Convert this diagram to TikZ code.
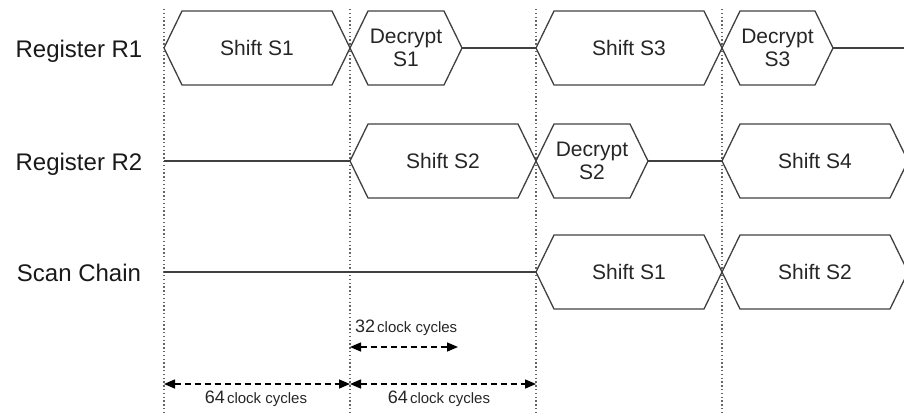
\documentclass[tikz,border=0pt]{standalone}
\usepackage{fontspec}
\setmainfont{Liberation Sans}
\usetikzlibrary{arrows.meta}
\tikzset{
  sig/.style={draw=black!75, line width=1.3pt, line join=miter},
  hextext/.style={font=\fontsize{21}{23}\selectfont, align=center, text=black!85, inner sep=0pt},
  rowlabel/.style={font=\fontsize{24}{28}\selectfont, text=black!90, inner sep=0pt, anchor=base},
  gridline/.style={draw=black!60, line width=1.3pt, dash pattern=on 1.3pt off 2.5pt},
  span/.style={draw=black, line width=1.5pt, dash pattern=on 6pt off 4pt,
    {Triangle[length=11pt,width=9pt]}-{Triangle[length=11pt,width=9pt]}},
  cyc/.style={font=\fontsize{15}{18}\selectfont, text=black!85, inner sep=0pt},
}
\newcommand\busseg[5]{%
  \draw[sig] (#2,#4) -- ++(18,-37) -- (#3-18,#4-37) -- (#3,#4) -- (#3-18,#4+37) -- (#2+18,#4+37) -- cycle;
  \node[hextext] (#1) at ({(#2+#3)/2},#4) {#5};
}
\newcommand\bignum[1]{{\fontsize{18}{19}\selectfont #1}\hspace{2pt}}
\begin{document}
\begin{tikzpicture}[x=1pt,y=-1pt]
\useasboundingbox (0,0) rectangle (904,413);
\begin{scope}
\clip (0,0) rectangle (904,413);
% vertical dotted guides
\foreach \gx/\gn in {164/ga,350/gb,536/gc,722/gd}{
  \coordinate (\gn top) at (\gx,9);
  \coordinate (\gn bot) at (\gx,413);
  \draw[gridline] (\gn top) -- (\gn bot);
}
% row labels
\node[rowlabel] (lr1) at (79,57) {Register R1};
\node[rowlabel] (lr2) at (79,170) {Register R2};
\node[rowlabel] (lsc) at (79,281) {Scan Chain};
% Row 1
\busseg{s1a}{164}{350}{48}{Shift S1}
\busseg{d1}{350}{462}{48}{Decrypt\\S1}
\coordinate (r1p1) at (462,48);
\coordinate (r1p2) at (536,48);
\draw[sig] (r1p1) -- (r1p2);
\busseg{s3}{536}{722}{48}{Shift S3}
\busseg{d3}{722}{833}{48}{Decrypt\\S3}
\coordinate (r1p3) at (833,48);
\coordinate (r1end) at (904,48);
\draw[sig] (r1p3) -- (r1end);
% Row 2
\coordinate (r2p0) at (164,161);
\coordinate (r2p1) at (350,161);
\draw[sig] (r2p0) -- (r2p1);
\busseg{s2}{350}{536}{161}{Shift S2}
\busseg{d2}{536}{648}{161}{Decrypt\\S2}
\coordinate (r2p2) at (648,161);
\coordinate (r2p3) at (722,161);
\draw[sig] (r2p2) -- (r2p3);
\busseg{s4}{722}{908}{161}{Shift S4}
% Row 3
\coordinate (r3p0) at (164,272);
\coordinate (r3p1) at (536,272);
\draw[sig] (r3p0) -- (r3p1);
\busseg{c1}{536}{722}{272}{Shift S1}
\busseg{c2}{722}{908}{272}{Shift S2}
% spans
\coordinate (a32l) at (350,347);
\coordinate (a32r) at (458,347);
\draw[span] (a32l) -- (a32r);
\node[cyc, anchor=base west] (t32) at (355,332) {\bignum{32}clock cycles};
\coordinate (a64a) at (164,384);
\coordinate (a64b) at (350,384);
\coordinate (a64c) at (536,384);
\draw[span] (a64a) -- (a64b);
\draw[span] (a64b) -- (a64c);
\node[cyc, anchor=base] (t64a) at (256,403) {\bignum{64}clock cycles};
\node[cyc, anchor=base] (t64b) at (439,403) {\bignum{64}clock cycles};
\end{scope}
\end{tikzpicture}
\end{document}
